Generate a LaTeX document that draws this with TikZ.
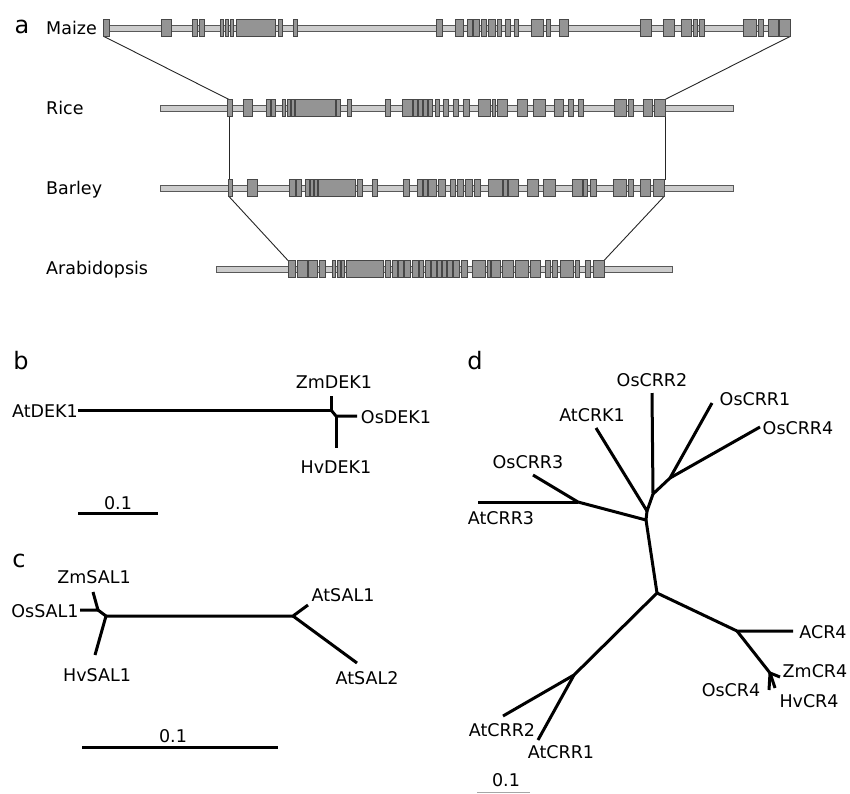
\documentclass[tikz,border=0pt]{standalone}
\usepackage{fontspec}
\setmainfont{DejaVu Sans}
\begin{document}
\begin{tikzpicture}[x=1pt, y=-1pt,
	intron/.style={draw=black!65, fill=black!20, line width=0.9pt},
	exon/.style={draw=black!72, fill=black!42, line width=0.9pt},
	link/.style={black!85, line width=0.9pt},
	branch/.style={line width=3pt, line join=round},
	lbl/.style={inner sep=0pt, font=\fontsize{17.5}{20}\selectfont, text height=12.8pt, text depth=0pt},
	panel/.style={inner sep=0pt, font=\fontsize{24}{28}\selectfont}]
	\useasboundingbox (0,0) rectangle (850,793);

	\node [panel] (pa) at (22,27) {a};
	\node [lbl, anchor=west] (maize) at (46,28) {Maize};
	\node [lbl, anchor=west] (rice) at (46,108) {Rice};
	\node [lbl, anchor=west] (barley) at (46,188) {Barley};
	\node [lbl, anchor=west] (arab) at (46,268) {Arabidopsis};

	\coordinate (mzL) at (104,36.5);
	\coordinate (mzR) at (790,36.5);
	\coordinate (riL1) at (229,99.5);
	\coordinate (riR1) at (665,99.5);
	\coordinate (riL2) at (229,116.5);
	\coordinate (riR2) at (665,116.5);
	\coordinate (baL1) at (229,179.5);
	\coordinate (baR1) at (665,179.5);
	\coordinate (baL2) at (229,196.5);
	\coordinate (baR2) at (664,196.5);
	\coordinate (arL) at (288,260.5);
	\coordinate (arR) at (604,260.5);
	\draw [link] (mzL) -- (riL1);
	\draw [link] (mzR) -- (riR1);
	\draw [link] (riL2) -- (baL1);
	\draw [link] (riR2) -- (baR1);
	\draw [link] (baL2) -- (arL);
	\draw [link] (baR2) -- (arR);

	\draw [intron] (103,25) rectangle (790,31);
	\foreach \a/\b in {103/109,161/171,192/197,199/204,220/223,225/228,230/233,236/275,278/282,293/297,436/442,455/463,467/472,473/479,481/486,488/495,497/501,505/510,514/518,531/543,546/550,559/568,640/651,663/674,681/691,693/697,699/704,743/756,758/763,768/778,779/790}
		\draw [exon] (\a,19.5) rectangle (\b,36.5);

	\draw [intron] (160,105) rectangle (733,111);
	\foreach \a/\b in {227/232,243/252,266/270,271/275,282/285,287/290,291/294,295/335,336/340,347/351,385/390,402/412,413/417,418/422,423/427,428/432,435/439,443/448,453/458,463/469,478/490,492/495,497/507,517/527,533/545,554/563,568/573,578/583,614/626,628/633,643/652,654/665}
		\draw [exon] (\a,99.5) rectangle (\b,116.5);

	\draw [intron] (160,185) rectangle (733,191);
	\foreach \a/\b in {228/232,247/257,289/295,296/301,305/309,310/313,314/317,318/355,357/362,372/377,403/409,417/422,423/427,428/436,438/445,450/455,457/463,465/472,474/480,488/502,503/507,508/518,527/538,543/555,572/582,583/587,590/596,613/626,628/633,640/650,653/664}
		\draw [exon] (\a,179.5) rectangle (\b,196.5);

	\draw [intron] (216,266) rectangle (672,272);
	\foreach \a/\b in {288/295,297/307,308/317,319/325,332/335,337/340,341/344,346/383,385/390,392/397,398/403,404/410,412/418,419/423,425/430,431/436,437/441,442/446,447/452,453/459,461/467,472/485,487/490,491/500,502/513,515/528,530/540,545/550,552/557,560/573,575/579,585/590,593/604}
		\draw [exon] (\a,260.5) rectangle (\b,277.5);

	\node [panel] (pb) at (21,361) {b};
	\node [lbl] (AtDEK1) at (45,411) {AtDEK1};
	\node [lbl] (ZmDEK1) at (334,382) {ZmDEK1};
	\node [lbl] (OsDEK1) at (396,417) {OsDEK1};
	\node [lbl] (HvDEK1) at (336,467) {HvDEK1};
	\coordinate (b0) at (331,410);
	\coordinate (b1) at (336,416);
	\coordinate (tAt) at (78,410);
	\coordinate (tZm) at (331,396);
	\coordinate (tOs) at (357,416);
	\coordinate (tHv) at (336,448);
	\draw [branch] (tAt) -- (b0) -- (tZm);
	\draw [branch] (b0) -- (b1) -- (tOs);
	\draw [branch] (b1) -- (tHv);
	\node [lbl] (sb) at (118,503) {0.1};
	\coordinate (sbL) at (78,513);
	\coordinate (sbR) at (158,513);
	\draw [branch] (sbL) -- (sbR);

	\node [panel] (pc) at (19,561) {c};
	\node [lbl] (ZmSAL1) at (94,577) {ZmSAL1};
	\node [lbl] (OsSAL1) at (45,611) {OsSAL1};
	\node [lbl] (HvSAL1) at (97,675) {HvSAL1};
	\node [lbl] (AtSAL1) at (343,595) {AtSAL1};
	\node [lbl] (AtSAL2) at (367,678) {AtSAL2};
	\coordinate (c0) at (98,610);
	\coordinate (c1) at (106,616);
	\coordinate (c2) at (293,616);
	\coordinate (tcOs) at (80,610);
	\coordinate (tcZm) at (93,592);
	\coordinate (tcHv) at (95,655);
	\coordinate (tcAt1) at (308,605);
	\coordinate (tcAt2) at (357,663);
	\draw [branch] (tcOs) -- (c0) -- (tcZm);
	\draw [branch] (c0) -- (c1) -- (tcHv);
	\draw [branch] (c1) -- (c2) -- (tcAt1);
	\draw [branch] (c2) -- (tcAt2);
	\node [lbl] (sc) at (173,736) {0.1};
	\coordinate (scL) at (82,747);
	\coordinate (scR) at (278,747);
	\draw [branch] (scL) -- (scR);

	\node [panel] (pd) at (475,361) {d};
	\node [lbl] (OsCRR2) at (652,380) {OsCRR2};
	\node [lbl] (OsCRR1) at (755,399) {OsCRR1};
	\node [lbl] (OsCRR4) at (798,428) {OsCRR4};
	\node [lbl] (AtCRK1) at (592,415) {AtCRK1};
	\node [lbl] (OsCRR3) at (528,462) {OsCRR3};
	\node [lbl] (AtCRR3) at (501,518) {AtCRR3};
	\node [lbl] (ACR4) at (823,632) {ACR4};
	\node [lbl] (ZmCR4) at (815,671) {ZmCR4};
	\node [lbl] (HvCR4) at (809,701) {HvCR4};
	\node [lbl] (OsCR4) at (731,690) {OsCR4};
	\node [lbl] (AtCRR2) at (502,730) {AtCRR2};
	\node [lbl] (AtCRR1) at (561,752) {AtCRR1};
	\coordinate (d1) at (670,478);
	\coordinate (d2) at (653,494);
	\coordinate (d3) at (647,511);
	\coordinate (d4) at (646,520);
	\coordinate (d5) at (578,502);
	\coordinate (d6) at (657,593);
	\coordinate (d7) at (574,675);
	\coordinate (d8) at (737,631);
	\coordinate (d9) at (770,673);
	\coordinate (tOsCRR2) at (652,393);
	\coordinate (tOsCRR1) at (712,403);
	\coordinate (tOsCRR4) at (760,427);
	\coordinate (tAtCRK1) at (596,428);
	\coordinate (tOsCRR3) at (533,475);
	\coordinate (tAtCRR3) at (478,502);
	\coordinate (tAtCRR2) at (503,716);
	\coordinate (tAtCRR1) at (538,740);
	\coordinate (tACR4) at (793,631);
	\coordinate (tZmCR4) at (780,677);
	\coordinate (tHvCR4) at (775,688);
	\coordinate (tOsCR4) at (769,690);
	\draw [branch] (tOsCRR2) -- (d2) -- (d1) -- (tOsCRR1);
	\draw [branch] (d1) -- (tOsCRR4);
	\draw [branch] (d2) -- (d3) -- (tAtCRK1);
	\draw [branch] (d3) -- (d4) -- (d5) -- (tOsCRR3);
	\draw [branch] (d5) -- (tAtCRR3);
	\draw [branch] (d4) -- (d6) -- (d7) -- (tAtCRR2);
	\draw [branch] (d7) -- (tAtCRR1);
	\draw [branch] (d6) -- (d8) -- (tACR4);
	\draw [branch] (d8) -- (d9) -- (tZmCR4);
	\draw [branch] (d9) -- (tHvCR4);
	\draw [branch] (d9) -- (tOsCR4);
	\node [lbl] (sd) at (506,780) {0.1};
	\coordinate (sdL) at (477,792);
	\coordinate (sdR) at (530,792);
	\draw [black!35, line width=1pt] (sdL) -- (sdR);
\end{tikzpicture}
\end{document}
